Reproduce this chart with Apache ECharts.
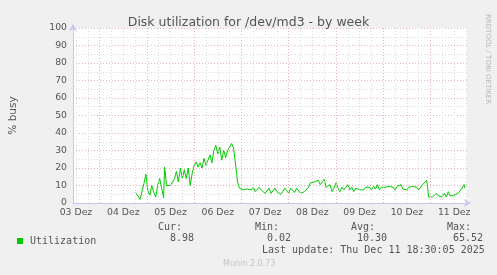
<!DOCTYPE html>
<html>
<head>
<meta charset="utf-8">
<script src="https://cdn.jsdelivr.net/npm/echarts@6/dist/echarts.min.js"></script>
<style>
html,body{margin:0;padding:0;background:#F0F0F0;}
#chart{width:497px;height:275px;}
</style>
</head>
<body>
<div id="chart"></div>
<script>
// Hours since 03 Dez 00:00 (local)
const hours = [42,43.5,44.5,45.5,46.5,47.5,48.5,49.5,50.5,51.5,52.5,53.5,54.5,55.5,56.5,57,
  58,59,60,61,62,63,64,65,66,67,68,69,70,71,72,73,74,75,76,77,78,79,80,81,82,83,84,85,86,87,88,89,90,91,92,93,93.5,
  94,95,96,97,98,99,100,101,102,103,104,105,106,107,108,109,110,111,112,113,114,115,116,117,118,119,120,121,122,123,
  124,125,126,127,128,129,130,131,132,133,134,135,136,137,138,139,140,141,142,143,144,145,146,147,148,149,150,151,152,153,
  154,155,156,157,158,159,160,161,162,163,164,165,166,167,168,169,170,171,172,173,174,175,176,177,178,179,180,181,182,183,
  184,185,186,187,188,189,190,190.5,
  191,192,193,194,195,196,197,198,199,200,201,202,203,204,205,206,207,208,209,209.5];
const busy = [6,4,2,3,11,16.5,7,4.5,10,6,3.5,10,14,8.5,3,20.5,
  10,9,10,9,14,18,12,20,14,19,14,20,10,17,21.5,23.5,20.5,23,20,25.5,21.5,24.5,27.5,23,30,33,28,32,24.5,30,26,30,32,34,31.5,32,17.5,
  12,8.5,9,7.5,8.5,8,8.5,7.5,9,6.5,5.5,9,7.5,8.5,5.5,6.5,8.5,5.5,6.5,8.5,6.5,7.5,5,6.5,8.5,7,5.5,8.5,
  7.5,6,8.5,7.5,5.5,4.5,6.5,5.5,9,11.5,10.5,12,11.5,13,10.5,12,13.5,9,8.5,10.5,6.5,8.5,11.5,8.5,6.5,9,
  7.5,8.5,10.5,7.5,9,6.5,8.5,9,7.5,8.5,7.5,9,8,9,7.5,9.5,8,10.5,7.5,9,8,9,8,9.5,8.5,9,
  7.5,9.5,8.5,10.5,8,9,7.5,9,8,9.5,8.5,9,7.5,8.5,10.5,11.5,13,9,
  3.5,3,3.5,3.5,5.5,4,5,3.5,5.5,3.5,6.5,4,3,4.5,3.5,5.5,4.5,8.5,10.5,8.5];
const dayLabels = ['03 Dez','04 Dez','05 Dez','06 Dez','07 Dez','08 Dez','09 Dez','10 Dez','11 Dez'];
const labelHours = [12,36,60,84,108,132,156,180,204];
const dayLineHours = [24,48,72,96,120,144,168,192];
const minorLineHours = [12,18,30,36,42,54,60,66,78,84,90,102,108,114,126,132,138,150,156,162,174,180,186,198,204,210];
const statNames = ['Cur:','Min:','Avg:','Max:'];
const statValues = ['8.98','0.02','10.30','65.52'];
const lastUpdate = 'Last update: Thu Dec 11 18:30:05 2025';

const chart = echarts.init(document.getElementById('chart'), null, {renderer:'canvas'});
const mono = '"DejaVu Sans Mono", monospace';
const sans = '"DejaVu Sans", sans-serif';
const txt = '#555';

const statX = [[158,170],[255,267],[351,357],[447,453]];
const graphics = [];
statNames.forEach((n,i)=>{
  graphics.push({type:'text', left:statX[i][0], top:222, style:{text:n, font:'10px '+mono, fill:txt}});
  graphics.push({type:'text', left:statX[i][1], top:233, style:{text:statValues[i], font:'10px '+mono, fill:txt}});
});
graphics.push({type:'text', left:262, top:245, style:{text:lastUpdate, font:'10px '+mono, fill:txt}});
graphics.push({type:'text', left:223, top:260, style:{text:'Munin 2.0.73', font:'8px '+sans, fill:'#c4c4c4'}});
graphics.push({type:'text', x:491, y:14, rotation:-Math.PI/2, style:{text:'RRDTOOL / TOBI OETIKER', font:'7px '+sans, fill:'#b8b8b8'}});

chart.setOption({
  backgroundColor:'#F0F0F0',
  animation:false,
  title:{text:'Disk utilization for /dev/md3 - by week', left:'center', top:11,
    textStyle:{fontFamily:sans, fontSize:12.5, fontWeight:'normal', color:'#555'}},
  legend:{data:['Utilization'], left:12, top:231, icon:'rect', itemWidth:6, itemHeight:6, itemGap:4,
    textStyle:{fontFamily:mono, fontSize:10, color:txt, padding:[0,0,0,2]}},
  grid:{left:67, right:30, top:28, bottom:72, show:true, backgroundColor:'#fff', borderWidth:0},
  xAxis:{type:'value', min:10.5, max:210.5,
    axisLine:{show:true, lineStyle:{color:'#c6c6ee', width:1}, symbol:['none','arrow'], symbolSize:[6,7], symbolOffset:[0,4]},
    axisTick:{show:false},
    splitLine:{show:false},
    axisLabel:{customValues:labelHours, margin:5, fontFamily:sans, fontSize:9.3, color:txt,
      formatter:(v)=>dayLabels[labelHours.indexOf(v)]}},
  yAxis:{type:'value', min:0, max:100, interval:10,
    name:'% busy', nameLocation:'middle', nameGap:54, nameRotate:90,
    nameTextStyle:{fontFamily:sans, fontSize:10.5, color:txt},
    axisLine:{show:true, lineStyle:{color:'#c6c6ee', width:1}, symbol:['none','arrow'], symbolSize:[6,7], symbolOffset:[0,4]},
    axisTick:{show:false},
    axisLabel:{margin:6, fontFamily:sans, fontSize:9.3, color:txt},
    splitLine:{show:true, lineStyle:{color:'#eab4b4', type:[1,2], width:1}},
    minorTick:{show:false, splitNumber:2},
    minorSplitLine:{show:true, lineStyle:{color:'#dcdcdc', type:[1,2], width:1}}},
  graphic:graphics,
  series:[
    {type:'line', name:'grid', data:[], silent:true, z:1, legendHoverLink:false,
      markLine:{silent:true, symbol:['none','none'], label:{show:false}, animation:false,
        data:[
          ...minorLineHours.map(h=>({xAxis:h, lineStyle:{color:'#dcdcdc', type:[1,2], width:1}})),
          ...dayLineHours.map(h=>({xAxis:h, lineStyle:{color:'#eab4b4', type:[1,2], width:1}}))
        ]}},
    {type:'line', name:'Utilization', z:3, data:hours.map((h,i)=>[h,busy[i]]),
      showSymbol:false, symbol:'none', color:'#00CC00', lineStyle:{width:1, color:'#00CC00'}}
  ]
});
</script>
</body>
</html>
